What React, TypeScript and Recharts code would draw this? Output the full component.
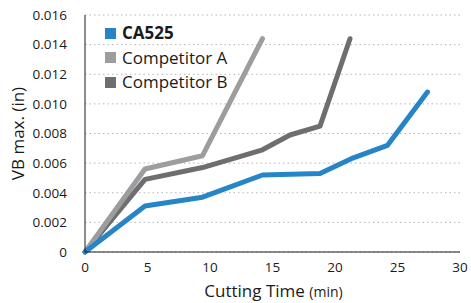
import { LineChart, Line, XAxis, YAxis, CartesianGrid } from 'recharts';

const ca525 = [
  { t: 0, vb: 0 },
  { t: 4.8, vb: 0.0031 },
  { t: 9.4, vb: 0.0037 },
  { t: 14.2, vb: 0.0052 },
  { t: 18.8, vb: 0.0053 },
  { t: 21.3, vb: 0.0063 },
  { t: 24.2, vb: 0.0072 },
  { t: 27.4, vb: 0.0108 },
];

const competitorA = [
  { t: 0, vb: 0 },
  { t: 4.8, vb: 0.0056 },
  { t: 9.4, vb: 0.0065 },
  { t: 14.2, vb: 0.0144 },
];

const competitorB = [
  { t: 0, vb: 0 },
  { t: 4.8, vb: 0.0049 },
  { t: 9.4, vb: 0.0057 },
  { t: 14.2, vb: 0.0069 },
  { t: 16.4, vb: 0.0079 },
  { t: 18.8, vb: 0.0085 },
  { t: 21.2, vb: 0.0144 },
];

const xTicks = [0, 5, 10, 15, 20, 25, 30];
const yTicks = [0, 0.002, 0.004, 0.006, 0.008, 0.01, 0.012, 0.014, 0.016];

const series = [
  { name: 'CA525', data: ca525, color: '#2585c7', bold: true },
  { name: 'Competitor A', data: competitorA, color: '#9d9d9f', bold: false },
  { name: 'Competitor B', data: competitorB, color: '#6d6e70', bold: false },
];

const font = '"Open Sans", sans-serif';

const LegendBox = () => (
  <div
    style={{
      position: 'absolute',
      left: 105,
      top: 21,
      fontFamily: font,
      fontSize: 17,
      color: '#1a1a1a',
      lineHeight: '24.5px',
    }}
  >
    {series.map((s) => (
      <div key={s.name} style={{ display: 'flex', alignItems: 'center' }}>
        <span style={{ width: 11, height: 11, background: s.color, marginRight: 6, display: 'inline-block' }} />
        <span style={{ fontWeight: s.bold ? 700 : 400 }}>{s.name}</span>
      </div>
    ))}
  </div>
);

const XLabel = (props: any) => {
  const { viewBox } = props;
  const cx = viewBox.x + viewBox.width / 2 + 1;
  return (
    <text x={cx} y={viewBox.y + 45} textAnchor="middle" fontFamily={font} fill="#1a1a1a">
      <tspan fontSize={17}>Cutting Time </tspan>
      <tspan fontSize={14}>(min)</tspan>
    </text>
  );
};

const YLabel = (props: any) => {
  const { viewBox } = props;
  const cy = viewBox.y + viewBox.height / 2;
  return (
    <text
      x={17}
      y={cy}
      textAnchor="middle"
      dominantBaseline="central"
      transform={`rotate(-90 17 ${cy})`}
      fontFamily={font}
      fontSize={17}
      fill="#1a1a1a"
    >
      VB max. (in)
    </text>
  );
};

export default function App() {
  return (
    <div style={{ position: 'absolute', left: 0, top: 0, width: 471, height: 303, background: '#fff' }}>
      <LineChart width={471} height={303} margin={{ top: 15, right: 11, bottom: 21, left: 0 }}>
        <CartesianGrid horizontal vertical={false} stroke="#b5b5b5" strokeDasharray="1.5 3" />
        <XAxis
          type="number"
          dataKey="t"
          height={30}
          domain={[0, 30]}
          ticks={xTicks}
          tickLine={false}
          axisLine={{ stroke: '#1a1a1a', strokeWidth: 1 }}
          tick={{ fontFamily: font, fontSize: 13.5, fill: '#1a1a1a' }}
          tickMargin={4}
          allowDuplicatedCategory={false}
          label={<XLabel />}
        />
        <YAxis
          type="number"
          dataKey="vb"
          width={85}
          domain={[0, 0.016]}
          ticks={yTicks}
          tickLine={false}
          axisLine={{ stroke: '#1a1a1a', strokeWidth: 1 }}
          tick={{ fontFamily: font, fontSize: 13.5, fill: '#1a1a1a' }}
          tickMargin={12}
          tickFormatter={(v: number) => (v === 0 ? '0' : v.toFixed(3))}
          label={<YLabel />}
        />
        {[...series].reverse().map((s) => (
          <Line
            key={s.name}
            data={s.data}
            dataKey="vb"
            name={s.name}
            stroke={s.color}
            strokeWidth={5}
            strokeLinecap="round"
            strokeLinejoin="round"
            dot={false}
            activeDot={false}
            type="linear"
            isAnimationActive={false}
          />
        ))}
      </LineChart>
      <LegendBox />
    </div>
  );
}
